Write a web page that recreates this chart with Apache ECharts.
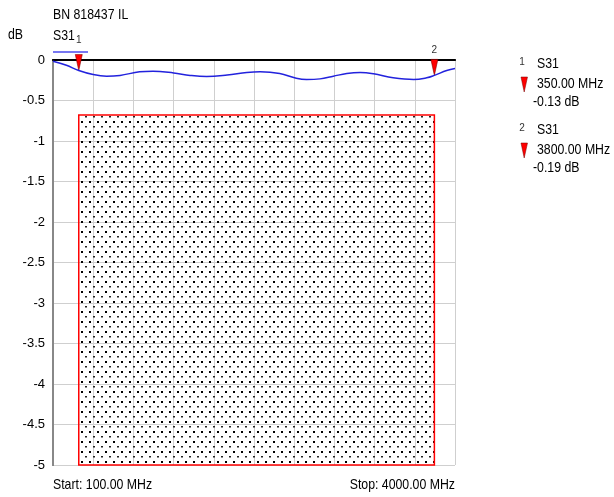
<!DOCTYPE html>
<html>
<head>
<meta charset="utf-8">
<script src="https://cdn.jsdelivr.net/npm/echarts@6/dist/echarts.min.js"></script>
<style>
html,body{margin:0;padding:0;background:#fff;}
#chart{width:614px;height:497px;}
</style>
</head>
<body>
<div id="chart"></div>
<script>
// ---- data ----
const chartTitle = 'BN 818437 IL';
const traceName = 'S31';
const unitLabel = 'dB';
const freqMHz = [100, 230, 350, 490, 620, 750, 940, 1070, 1270, 1430, 1590, 1790, 1980, 2110, 2300, 2460, 2560, 2690, 2820, 2950, 3080, 3210, 3400, 3600, 3725, 3800, 3920, 4000];
const s31dB   = [-0.015, -0.065, -0.13, -0.18, -0.20, -0.19, -0.146, -0.138, -0.16, -0.19, -0.204, -0.186, -0.155, -0.146, -0.167, -0.225, -0.241, -0.233, -0.20, -0.167, -0.155, -0.171, -0.22, -0.241, -0.22, -0.19, -0.13, -0.105];
const markerIds = ['1', '2'];
const markerFreq = [350, 3800];
const markerDB = [-0.13, -0.19];
const maskStart = 350, maskStop = 3800, maskTop = -0.68, maskBottom = -5;
const yMin = -5, yMax = 0, yStep = 0.5;
const xStart = 100, xStop = 4000, xDivisions = 10;

// ---- dotted fill pattern ----
const pc = document.createElement('canvas');
pc.width = 8; pc.height = 10;
const pctx = pc.getContext('2d');
pctx.fillStyle = '#000';
pctx.fillRect(1, 1, 2, 2);
pctx.fillStyle = '#222';
pctx.fillRect(5, 6, 2, 1.5);

const FONT = '"Liberation Sans", Arial, sans-serif';
const FS = 15;
const SX = 0.82; // condensed look
const chart = echarts.init(document.getElementById('chart'));

function txt(x, y, text, opts) {
  opts = opts || {};
  return { type: 'text', x: x, y: y, scaleX: opts.sx || SX, z: 10,
    style: { text: text, font: (opts.fs || FS) + 'px ' + FONT, fill: opts.fill || '#000',
      align: opts.align || 'left', verticalAlign: 'middle' } };
}

const lineData = freqMHz.map((f, i) => [f, s31dB[i]]);
const markerPoints = markerFreq.map((f, i) => ({
  coord: [f, markerDB[i]],
  value: markerIds[i],
  label: { show: true, position: 'top', distance: i === 0 ? 9 : 4, formatter: markerIds[i], fontSize: 10, color: '#333', fontFamily: FONT }
}));

const legendGraphics = [];
markerIds.forEach((id, i) => {
  const y0 = 63 + i * 66;
  legendGraphics.push(
    txt(522, y0 - 1, id, { fs: 10, fill: '#333', align: 'center', sx: 1 }),
    txt(537, y0 + 1, traceName),
    { type: 'polygon', shape: { points: [[521, y0 + 14], [527.5, y0 + 14], [524.2, y0 + 29]] }, style: { fill: '#ff0000', stroke: '#700', lineWidth: 0.5 } },
    txt(537, y0 + 21, markerFreq[i].toFixed(2) + ' MHz'),
    txt(533, y0 + 39, markerDB[i].toFixed(2) + ' dB')
  );
});

chart.setOption({
  animation: false,
  backgroundColor: '#fff',
  grid: { left: 53, right: 159, top: 60, bottom: 32, show: false },
  xAxis: [
    { type: 'value', min: xStart, max: xStop, position: 'bottom',
      axisLine: { show: true, lineStyle: { color: '#000', width: 2 } },
      axisTick: { show: false }, axisLabel: { show: false }, splitLine: { show: false } },
    { type: 'value', min: 0, max: xDivisions, interval: 1, position: 'bottom',
      axisLine: { show: false }, axisTick: { show: false }, axisLabel: { show: false },
      splitLine: { show: true, lineStyle: { color: '#cfcfcf', width: 1 } } },
    { type: 'value', min: 0, max: 1, position: 'top',
      axisLine: { show: true, lineStyle: { color: '#000', width: 1.5 } },
      axisTick: { show: false }, axisLabel: { show: false }, splitLine: { show: false } }
  ],
  yAxis: [
    { type: 'value', min: yMin, max: yMax, interval: yStep, position: 'left',
      axisLine: { show: true, lineStyle: { color: '#000', width: 1.5 } },
      axisTick: { show: false },
      axisLabel: { color: '#000', fontSize: 13, fontFamily: FONT, margin: 8 },
      splitLine: { show: true, lineStyle: { color: '#cfcfcf', width: 1 } } },
    { type: 'value', min: 0, max: 1, position: 'right',
      axisLine: { show: true, lineStyle: { color: '#888', width: 2 } },
      axisTick: { show: false }, axisLabel: { show: false }, splitLine: { show: false } }
  ],
  series: [
    { type: 'line', xAxisIndex: 0, yAxisIndex: 0, data: lineData, smooth: 0.4, showSymbol: false,
      clip: false,
      lineStyle: { color: '#2222dd', width: 1.5 },
      z: 5,
      markArea: { silent: true,
        itemStyle: { color: { image: pc, repeat: 'repeat' }, borderColor: '#ff0000', borderWidth: 1.5 },
        data: [[{ coord: [maskStart, maskTop] }, { coord: [maskStop, maskBottom] }]] },
      markPoint: { silent: true, symbol: 'path://M0,0 L8,0 L4,18 Z', symbolSize: [7, 16], symbolOffset: [0, '-50%'],
        itemStyle: { color: '#ff0000', borderColor: '#700', borderWidth: 0.5 },
        data: markerPoints }
    }
  ],
  graphic: [
    txt(53, 15, chartTitle),
    txt(8, 35, unitLabel),
    txt(53, 36, traceName),
    { type: 'line', shape: { x1: 53, y1: 52, x2: 88, y2: 52 }, style: { stroke: '#4a4aee', lineWidth: 1.5 } },
    txt(53, 485, 'Start: ' + xStart.toFixed(2) + ' MHz'),
    txt(455, 485, 'Stop: ' + xStop.toFixed(2) + ' MHz', { align: 'right' })
  ].concat(legendGraphics)
});
</script>
</body>
</html>
